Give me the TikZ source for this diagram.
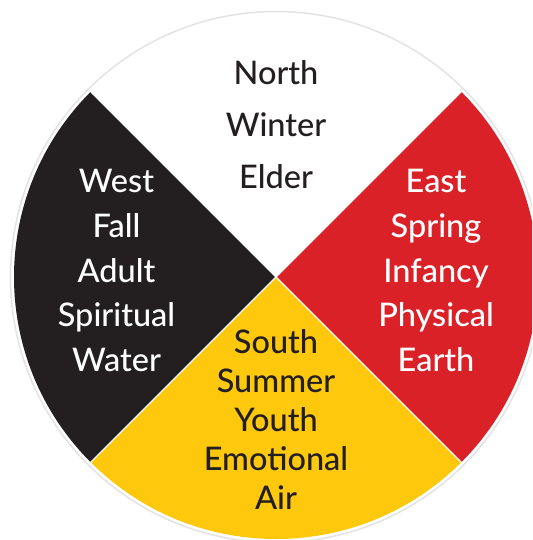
\documentclass[tikz,border=0pt]{standalone}
\usepackage{fontspec}
\setmainfont{Lato Medium}
\definecolor{wblack}{HTML}{231F20}
\definecolor{wred}{HTML}{DA2128}
\definecolor{wyellow}{HTML}{FEC80D}
\definecolor{wring}{HTML}{E3E3E3}
\begin{document}
\begin{tikzpicture}[x=1pt,y=-1pt,
  lbl/.style={anchor=base,inner sep=0pt,font=\fontsize{32.5}{32.5}\selectfont},
  dark/.style={lbl,text=wblack},
  light/.style={lbl,text=white}]
\useasboundingbox (0,0) rectangle (532,540);
\clip (0,0) rectangle (532,540);
\fill[white] (0,0) rectangle (532,540);
\coordinate (c) at (276,277);
\draw[wring,line width=1.5pt] (c) circle (265.5);
\fill[wblack] (c) -- ++(135:262) arc (135:225:262) -- cycle;
\fill[wyellow] (c) -- ++(45:262) arc (45:135:262) -- cycle;
\fill[wred] (c) -- ++(-45:262) arc (-45:45:262) -- cycle;
\draw[white,line width=1.2pt] (c) -- ++(45:263) (c) -- ++(135:263) (c) -- ++(225:263) (c) -- ++(-45:263);
% North
\node[dark] (n1) at (276,84.5) {North};
\node[dark] (n2) at (276,136.5) {Winter};
\node[dark] (n3) at (276,188.5) {Elder};
% West
\node[light] (w1) at (116.5,192.5) {West};
\node[light] (w2) at (116.5,237) {Fall};
\node[light] (w3) at (116.5,282) {Adult};
\node[light] (w4) at (116.5,326.5) {Spiritual};
\node[light] (w5) at (116.5,371) {Water};
% East
\node[light] (e1) at (436,192.5) {East};
\node[light] (e2) at (436,237) {Spring};
\node[light] (e3) at (436,282) {Infancy};
\node[light] (e4) at (436,326.5) {Physical};
\node[light] (e5) at (436,371) {Earth};
% South
\node[dark] (s1) at (276,353.5) {South};
\node[dark] (s2) at (276,392.5) {Summer};
\node[dark] (s3) at (276,431.5) {Youth};
\node[dark] (s4) at (276,470.5) {Emotional};
\node[dark] (s5) at (276,509.5) {Air};
\end{tikzpicture}
\end{document}
